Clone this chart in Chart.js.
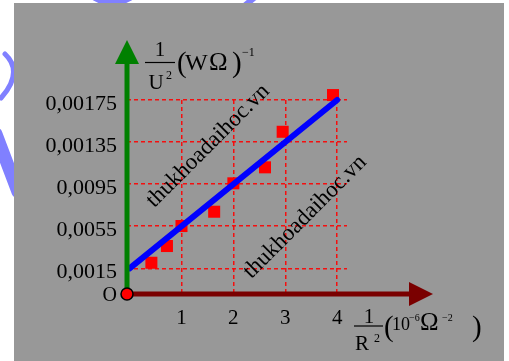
<!DOCTYPE html>
<html>
<head>
<meta charset="utf-8">
<script src="https://cdn.jsdelivr.net/npm/chart.js@4.4.1/dist/chart.umd.min.js"></script>
<style>
  html, body { margin: 0; padding: 0; background: #fff; }
</style>
</head>
<body>
<canvas id="graph" width="509" height="361"></canvas>
<script>
// measured points: x in 10^-6 Ω^-2, y in (WΩ)^-1
const pointX = [0.42, 0.72, 1.0, 1.63, 2.0, 2.61, 2.95, 3.92];
const pointY = [0.00203, 0.00362, 0.00552, 0.00688, 0.00958, 0.0111, 0.01448, 0.01797];
// fitted straight line
const fitX = [0, 4];
const fitY = [0.0015, 0.0175];
// axis ticks
const xTicks = [1, 2, 3, 4];
const xTickLabels = ["1", "2", "3", "4"];
const yTicks = [0.0015, 0.0055, 0.0095, 0.0135, 0.0175];
const yTickLabels = ["0,0015", "0,0055", "0,0095", "0,00135", "0,00175"];

const SERIF = "'Liberation Serif', 'Times New Roman', serif";

function txt(c, s, x, y, size, align) {
  c.font = size + "px " + SERIF;
  c.textAlign = align || "left";
  c.fillText(s, x, y);
}

/* ===== panel background + logo scraps ===== */
const backdrop = {
  id: "backdrop",
  beforeDraw(chart) {
    const c = chart.ctx;
    c.save();
    c.fillStyle = "#fff";
    c.fillRect(0, 0, chart.width, chart.height);
    c.strokeStyle = "#8080ff";
    c.lineCap = "round";
    c.lineWidth = 5;
    c.beginPath(); c.moveTo(5, 54); c.quadraticCurveTo(24, 72, 1, 98); c.stroke();
    c.lineWidth = 13;
    c.beginPath(); c.moveTo(-4, 134); c.lineTo(18, 192); c.stroke();
    c.lineWidth = 6;
    c.beginPath(); c.moveTo(95, -2); c.quadraticCurveTo(112, 8, 130, -2); c.stroke();
    c.beginPath(); c.moveTo(243, 7); c.lineTo(254, -2); c.stroke();
    c.fillStyle = "#989898";
    c.fillRect(14, 3, 490, 358);
    c.restore();
  }
};

/* ===== arrows, origin, axis titles, watermarks ===== */
const decor = {
  id: "decor",
  afterDatasetsDraw(chart) {
    const c = chart.ctx;
    const a = chart.chartArea;
    const ox = a.left, oy = a.bottom;
    c.save();
    // y axis (green)
    c.strokeStyle = c.fillStyle = "#008000";
    c.lineWidth = 5;
    c.beginPath(); c.moveTo(ox, oy); c.lineTo(ox, a.top - 38); c.stroke();
    c.beginPath(); c.moveTo(ox, a.top - 60); c.lineTo(ox - 12, a.top - 36); c.lineTo(ox + 12, a.top - 36); c.closePath(); c.fill();
    // x axis (dark red)
    c.strokeStyle = c.fillStyle = "#7a0000";
    c.beginPath(); c.moveTo(ox, oy); c.lineTo(a.right + 66, oy); c.stroke();
    c.beginPath(); c.moveTo(a.right + 86, oy); c.lineTo(a.right + 62, oy - 12); c.lineTo(a.right + 62, oy + 12); c.closePath(); c.fill();
    // origin
    c.fillStyle = "#ff0000";
    c.strokeStyle = "#000";
    c.lineWidth = 1.5;
    c.beginPath(); c.arc(ox, oy, 6, 0, Math.PI * 2); c.fill(); c.stroke();

    c.fillStyle = "#000";
    c.textBaseline = "alphabetic";
    txt(c, "O", ox - 10, oy + 7, 20, "right");

    // y title: 1/U^2 (WΩ)^-1
    txt(c, "1", 160, 56, 21, "center");
    txt(c, "U", 156, 89, 21, "center");
    txt(c, "2", 166, 79, 12);
    txt(c, "(", 177, 72, 29);
    txt(c, "W", 185, 70, 24);
    txt(c, "Ω", 209, 70, 25);
    txt(c, ")", 232, 72, 29);
    txt(c, "−1", 242, 56, 12);
    // x title: 1/R^2 (10^-6 Ω^-2)
    txt(c, "1", 369, 323, 21, "center");
    txt(c, "R", 362, 350, 21, "center");
    txt(c, "2", 374, 342, 12);
    txt(c, "(", 384, 336, 29);
    txt(c, "10", 392, 330, 18);
    txt(c, "−6", 409, 321, 10);
    txt(c, "Ω", 420, 330, 25);
    txt(c, "−2", 442, 321, 10);
    txt(c, ")", 472, 336, 29);
    c.lineWidth = 1.2;
    c.strokeStyle = "#000";
    c.beginPath(); c.moveTo(145, 62.5); c.lineTo(175, 62.5); c.stroke();
    c.beginPath(); c.moveTo(354, 326); c.lineTo(383, 326); c.stroke();
    c.restore();
  },
  afterDraw(chart) {
    const c = chart.ctx;
    c.save();
    c.fillStyle = "#000";
    c.textBaseline = "middle";
    [[208, 146], [305, 217]].forEach(([cx, cy]) => {
      c.save();
      c.translate(cx, cy);
      c.rotate(-Math.PI / 4);
      txt(c, "thukhoadaihoc.vn", 0, 0, 23, "center");
      c.restore();
    });
    c.restore();
  }
};

const gridColor = "rgba(255,0,0,0.9)";

new Chart(document.getElementById("graph"), {
  type: "scatter",
  data: {
    datasets: [
      {
        type: "line",
        data: fitX.map((v, i) => ({ x: v, y: fitY[i] })),
        borderColor: "#0000ff",
        borderWidth: 6,
        borderCapStyle: "round",
        pointRadius: 0,
        fill: false,
        clip: false
      },
      {
        data: pointX.map((v, i) => ({ x: v, y: pointY[i] })),
        pointStyle: "rect",
        pointRadius: 8.5,
        backgroundColor: "#ff0000",
        borderWidth: 0,
        clip: false
      }
    ]
  },
  options: {
    responsive: false,
    animation: false,
    events: [],
    layout: { padding: { left: 0, top: 100, right: 162, bottom: 0 } },
    plugins: { legend: { display: false }, tooltip: { enabled: false } },
    scales: {
      x: {
        type: "linear",
        min: -0.05,
        max: 4.19,
        afterBuildTicks: (s) => { s.ticks = xTicks.map((v) => ({ value: v })); },
        afterFit: (s) => { s.height = 67; },
        grid: { color: gridColor, lineWidth: 1.5, drawTicks: false },
        border: { display: false, dash: [4, 3] },
        ticks: {
          padding: 12,
          color: "#000",
          font: { family: SERIF, size: 21 },
          autoSkip: false,
          maxRotation: 0,
          callback: (v, i) => xTickLabels[i]
        }
      },
      y: {
        type: "linear",
        min: -0.00094,
        max: 0.0175,
        afterBuildTicks: (s) => { s.ticks = yTicks.map((v) => ({ value: v })); },
        afterFit: (s) => { s.width = 127; },
        grid: { color: gridColor, lineWidth: 1.5, drawTicks: false },
        border: { display: false, dash: [4, 3] },
        ticks: {
          padding: 10,
          labelOffset: 4,
          color: "#000",
          font: { family: SERIF, size: 22 },
          autoSkip: false,
          callback: (v, i) => yTickLabels[i]
        }
      }
    }
  },
  plugins: [backdrop, decor]
});
</script>
</body>
</html>
